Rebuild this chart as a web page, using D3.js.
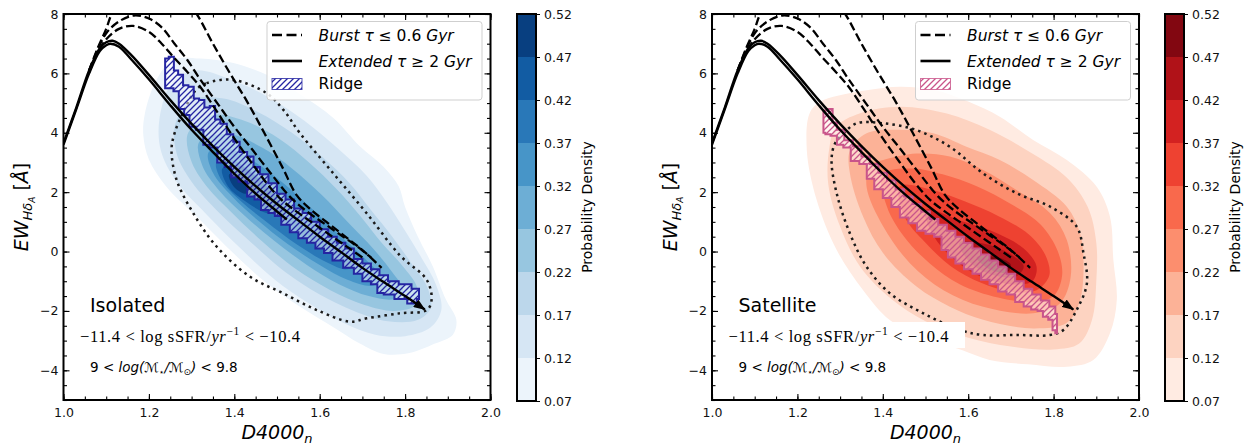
<!DOCTYPE html>
<html><head><meta charset="utf-8">
<script src="https://cdn.jsdelivr.net/npm/d3@7"></script>
<style>
body{margin:0;background:#fff}
svg{display:block;font-family:"DejaVu Sans",sans-serif}
text{white-space:pre}
</style>
</head><body>
<svg id="c" width="1249" height="445"></svg>
<script>
// ---------------- data ----------------
const levels = [0.07,0.12,0.17,0.22,0.27,0.32,0.37,0.42,0.47,0.52];
const xTickValues = [1.0,1.2,1.4,1.6,1.8,2.0];
const yTickValues = [-4,-2,0,2,4,6,8];

// model tracks (D4000n, EW)
const extendedLong = [[1.0,3.65],[1.03,4.85],[1.06,6.1],[1.085,6.85],[1.1,7.05],[1.115,7.1],[1.13,7.0],[1.16,6.6],[1.2,5.95],[1.25,5.1],[1.3,4.3],[1.35,3.55],[1.4,2.85],[1.45,2.2],[1.5,1.6],[1.55,1.05],[1.6,0.5],[1.65,-0.02],[1.7,-0.55],[1.75,-1.03],[1.8,-1.5],[1.846,-1.95]];
const extendedShort = [[1.0,3.6],[1.03,4.8],[1.06,6.0],[1.085,6.75],[1.1,6.95],[1.11,7.0],[1.13,6.9],[1.16,6.45],[1.2,5.8],[1.25,4.93],[1.3,4.1],[1.35,3.35],[1.4,2.62],[1.45,1.95],[1.5,1.35],[1.523,1.08]];
const burstA = [[1.06,6.1],[1.08,6.85],[1.1,7.5],[1.113,8.0],[1.14,8.6],[1.18,9.0],[1.22,9.1],[1.26,8.85],[1.29,8.4],[1.312,8.0],[1.35,7.0],[1.39,6.0],[1.43,5.05],[1.47,4.0],[1.514,2.8],[1.546,1.9],[1.58,1.4],[1.62,0.95],[1.66,0.5],[1.70,0.05],[1.745,-0.55]];
const burstB = [[1.06,6.1],[1.08,6.8],[1.1,7.35],[1.13,7.75],[1.165,7.95],[1.2,7.85],[1.23,7.55],[1.26,7.0],[1.29,6.45],[1.32,5.8],[1.36,5.0],[1.4,4.2],[1.444,3.4],[1.49,2.55],[1.53,1.85],[1.57,1.35],[1.61,0.95],[1.65,0.55],[1.69,0.15],[1.72,-0.2]];
const burstC = [[1.06,6.05],[1.08,6.7],[1.1,7.15],[1.13,7.5],[1.163,7.6],[1.2,7.4],[1.23,7.0],[1.257,6.56],[1.29,6.05],[1.32,5.55],[1.36,4.7],[1.398,3.85],[1.44,3.0],[1.476,2.3],[1.51,1.75],[1.55,1.3],[1.59,0.9],[1.63,0.5],[1.67,0.1],[1.70,-0.2]];

// Isolated: filled density contours (level 0.07 ... 0.47)
const isoC1 = [[1.19,4.6],[1.187,3.9],[1.2,3.1],[1.24,2.2],[1.32,1.06],[1.398,-0.06],[1.476,-1.07],[1.554,-1.86],[1.632,-2.55],[1.694,-3.1],[1.75,-3.45],[1.81,-3.42],[1.87,-3.1],[1.912,-2.8],[1.92,-2.3],[1.895,-1.6],[1.865,-0.5],[1.83,0.5],[1.80,1.5],[1.785,2.2],[1.75,2.85],[1.694,3.55],[1.632,4.5],[1.554,5.3],[1.476,5.95],[1.398,6.35],[1.32,6.5],[1.255,6.45],[1.215,5.7]];
const isoC2 = [[1.225,4.5],[1.228,3.4],[1.265,2.35],[1.335,1.25],[1.415,0.1],[1.495,-0.95],[1.575,-1.75],[1.655,-2.4],[1.73,-2.8],[1.80,-2.85],[1.86,-2.55],[1.885,-1.95],[1.872,-1.1],[1.84,-0.25],[1.8,0.7],[1.755,1.7],[1.71,2.55],[1.64,3.5],[1.565,4.4],[1.48,5.2],[1.39,5.8],[1.31,6.1],[1.255,5.7]];
const isoC3 = [[1.262,4.3],[1.265,3.3],[1.3,2.35],[1.365,1.3],[1.44,0.3],[1.52,-0.7],[1.6,-1.45],[1.68,-2.0],[1.76,-2.35],[1.83,-2.3],[1.86,-1.9],[1.852,-1.2],[1.815,-0.4],[1.77,0.5],[1.72,1.4],[1.67,2.3],[1.605,3.2],[1.535,4.0],[1.455,4.7],[1.375,5.15],[1.3,5.1]];
const isoC4 = [[1.292,4.0],[1.298,3.1],[1.335,2.2],[1.395,1.3],[1.465,0.35],[1.545,-0.6],[1.625,-1.3],[1.705,-1.8],[1.775,-2.0],[1.825,-1.8],[1.828,-1.2],[1.795,-0.5],[1.745,0.3],[1.695,1.2],[1.64,2.1],[1.575,3.0],[1.505,3.8],[1.425,4.4],[1.35,4.6]];
const isoC5 = [[1.318,3.7],[1.325,2.9],[1.365,2.05],[1.425,1.2],[1.495,0.35],[1.57,-0.45],[1.645,-1.1],[1.715,-1.5],[1.775,-1.6],[1.795,-1.3],[1.77,-0.7],[1.725,0.1],[1.665,1.0],[1.605,1.9],[1.535,2.8],[1.465,3.5],[1.39,3.95]];
const isoC6 = [[1.34,3.35],[1.35,2.65],[1.395,1.85],[1.455,1.05],[1.525,0.25],[1.6,-0.45],[1.665,-0.95],[1.725,-1.15],[1.745,-0.9],[1.71,-0.3],[1.65,0.5],[1.585,1.4],[1.515,2.3],[1.45,3.0],[1.39,3.45]];
const isoC7 = [[1.358,3.0],[1.37,2.4],[1.415,1.7],[1.475,1.0],[1.545,0.25],[1.615,-0.35],[1.665,-0.6],[1.685,-0.35],[1.64,0.3],[1.57,1.1],[1.50,1.95],[1.44,2.7],[1.39,3.1]];
const isoC8 = [[1.372,2.8],[1.385,2.2],[1.425,1.7],[1.475,1.3],[1.515,1.3],[1.50,1.8],[1.46,2.4],[1.41,2.9]];
const isoC9 = [[1.388,2.6],[1.398,2.2],[1.425,1.95],[1.448,2.1],[1.43,2.5]];

// Satellite: filled density contours
const satC1 = [[1.261,5.1],[1.23,4.7],[1.222,3.42],[1.245,1.74],[1.292,0.05],[1.354,-1.3],[1.417,-2.31],[1.5,-2.9],[1.585,-3.32],[1.65,-3.65],[1.74,-3.8],[1.831,-3.88],[1.893,-3.65],[1.932,-2.75],[1.948,-1.63],[1.94,-0.29],[1.932,1.17],[1.901,2.18],[1.831,3.08],[1.752,3.76],[1.674,4.54],[1.6,5.05],[1.52,5.45],[1.44,5.55],[1.37,5.45],[1.31,5.3]];
const satC2 = [[1.29,4.2],[1.275,3.5],[1.272,2.3],[1.3,0.84],[1.347,-0.51],[1.42,-1.6],[1.5,-2.35],[1.6,-2.9],[1.7,-3.2],[1.8,-3.3],[1.86,-3.1],[1.89,-2.3],[1.9,-1.0],[1.9,0.3],[1.88,1.5],[1.83,2.5],[1.75,3.3],[1.65,4.1],[1.55,4.65],[1.44,4.88],[1.347,4.66]];
const satC3 = [[1.323,3.4],[1.323,2.63],[1.354,1.17],[1.401,-0.06],[1.479,-1.18],[1.557,-1.86],[1.635,-2.3],[1.752,-2.59],[1.831,-2.4],[1.862,-1.63],[1.87,-0.3],[1.862,0.61],[1.831,1.51],[1.752,2.41],[1.674,3.08],[1.596,3.53],[1.518,3.98],[1.44,4.1],[1.362,3.98]];
const satC4 = [[1.37,2.9],[1.362,2.18],[1.401,0.84],[1.464,-0.4],[1.542,-1.3],[1.635,-1.86],[1.752,-2.08],[1.815,-1.74],[1.84,-0.85],[1.831,0.39],[1.792,1.29],[1.713,2.07],[1.635,2.75],[1.557,3.2],[1.479,3.3],[1.401,3.08]];
const satC5 = [[1.4,2.6],[1.41,1.5],[1.45,0.5],[1.51,-0.4],[1.58,-1.1],[1.67,-1.55],[1.75,-1.7],[1.8,-1.5],[1.82,-0.8],[1.81,0.0],[1.77,0.9],[1.7,1.6],[1.62,2.2],[1.54,2.6],[1.47,2.8]];
const satC6 = [[1.44,2.2],[1.45,1.2],[1.5,0.3],[1.56,-0.5],[1.63,-1.05],[1.7,-1.35],[1.76,-1.3],[1.79,-0.8],[1.78,-0.1],[1.74,0.6],[1.67,1.2],[1.59,1.7],[1.51,2.1]];
const satC7 = [[1.5,1.4],[1.52,0.5],[1.57,-0.3],[1.63,-0.85],[1.7,-1.1],[1.75,-1.0],[1.76,-0.5],[1.73,0.1],[1.67,0.6],[1.59,1.0]];
const satC8 = [[1.58,0.3],[1.6,-0.3],[1.65,-0.75],[1.71,-0.85],[1.73,-0.5],[1.7,-0.1],[1.64,0.25]];
const satC9 = [[1.62,-0.2],[1.65,-0.6],[1.69,-0.7],[1.7,-0.45],[1.67,-0.2]];

// ridges
const isoRidge = [[1.238,6.5],[1.255,6.56],[1.262,6.1],[1.275,5.95],[1.285,5.6],[1.30,5.55],[1.31,5.15],[1.325,5.1],[1.335,4.85],[1.35,4.9],[1.36,4.45],[1.375,4.3],[1.39,3.95],[1.405,3.7],[1.42,3.35],[1.44,3.2],[1.45,2.85],[1.47,2.6],[1.49,2.3],[1.51,1.95],[1.53,1.75],[1.55,1.45],[1.57,1.3],[1.59,1.0],[1.61,0.75],[1.63,0.5],[1.65,0.3],[1.67,0.1],[1.69,-0.25],[1.71,-0.4],[1.73,-0.6],[1.75,-0.8],[1.77,-1.0],[1.80,-1.1],[1.83,-1.25],[1.835,-1.6],[1.82,-1.75],[1.79,-1.6],[1.76,-1.45],[1.74,-1.4],[1.73,-1.1],[1.71,-1.0],[1.69,-0.75],[1.67,-0.55],[1.64,-0.3],[1.62,-0.05],[1.60,0.1],[1.58,0.3],[1.56,0.45],[1.54,0.65],[1.52,0.9],[1.50,1.2],[1.49,1.3],[1.47,1.4],[1.455,1.75],[1.44,1.85],[1.42,2.35],[1.40,2.5],[1.385,2.85],[1.37,3.0],[1.35,3.5],[1.335,3.6],[1.32,4.1],[1.30,4.2],[1.29,4.6],[1.275,4.8],[1.265,5.4],[1.25,5.5],[1.238,5.5]];
const satRidge = [[1.261,4.75],[1.28,4.8],[1.285,4.35],[1.30,4.1],[1.32,3.75],[1.34,3.55],[1.36,3.2],[1.38,2.95],[1.40,2.65],[1.42,2.4],[1.44,2.1],[1.46,1.85],[1.48,1.6],[1.50,1.35],[1.52,1.1],[1.54,0.9],[1.56,0.7],[1.58,0.5],[1.60,0.3],[1.62,0.1],[1.64,-0.1],[1.66,-0.3],[1.68,-0.5],[1.70,-0.75],[1.72,-1.0],[1.74,-1.25],[1.76,-1.45],[1.78,-1.65],[1.80,-1.85],[1.808,-2.1],[1.808,-2.75],[1.80,-2.65],[1.795,-2.3],[1.78,-2.2],[1.77,-2.0],[1.755,-1.95],[1.74,-1.85],[1.72,-1.7],[1.70,-1.45],[1.68,-1.35],[1.66,-1.1],[1.64,-0.95],[1.62,-0.75],[1.60,-0.6],[1.58,-0.4],[1.56,-0.2],[1.545,0.05],[1.53,0.5],[1.51,0.6],[1.49,0.7],[1.47,0.95],[1.45,1.15],[1.43,1.5],[1.41,1.8],[1.39,2.1],[1.37,2.45],[1.355,2.95],[1.335,3.05],[1.315,3.5],[1.30,3.6],[1.285,3.9],[1.27,3.95],[1.261,4.0]];

// dotted enclosing contours
const isoDotted = [[1.31,5.44],[1.335,5.67],[1.397,5.78],[1.476,5.33],[1.515,4.77],[1.554,3.98],[1.632,2.63],[1.71,1.29],[1.788,-0.13],[1.851,-0.96],[1.862,-1.63],[1.851,-1.97],[1.788,-2.08],[1.71,-2.25],[1.671,-2.36],[1.593,-1.97],[1.515,-1.41],[1.437,-0.85],[1.359,0.16],[1.304,1.29],[1.265,2.41],[1.253,3.42],[1.26,3.98],[1.283,4.77]];
const satDotted = [[1.288,3.64],[1.308,3.98],[1.339,4.32],[1.401,4.32],[1.479,4.09],[1.557,3.53],[1.635,2.63],[1.714,1.96],[1.792,1.51],[1.854,0.84],[1.87,-0.06],[1.878,-1.07],[1.854,-1.97],[1.823,-2.64],[1.792,-2.81],[1.714,-2.81],[1.635,-2.81],[1.58,-2.64],[1.495,-2.08],[1.417,-1.41],[1.362,-0.51],[1.323,0.61],[1.292,1.96],[1.28,3.08]];

const panelNames = ["Isolated","Satellite"];

// ---------------- drawing ----------------
const svg = d3.select("#c");
const defs = svg.append("defs");
defs.append("marker").attr("id","arrow").attr("viewBox","0 0 12 9").attr("refX",11).attr("refY",4.5)
  .attr("markerWidth",12).attr("markerHeight",9).attr("markerUnits","userSpaceOnUse").attr("orient","auto")
  .append("path").attr("d","M0,0L12,4.5L0,9z").attr("fill","#000");

function hatch(id, color){
  const p = defs.append("pattern").attr("id",id).attr("patternUnits","userSpaceOnUse").attr("width",6).attr("height",6);
  p.append("path").attr("d","M-1,1L1,-1M0,6L6,0M5,7L7,5").attr("stroke",color).attr("stroke-width",1.3);
}

const panels = [
  {x0:63.5, contours:[isoC1,isoC2,isoC3,isoC4,isoC5,isoC6,isoC7,isoC8,isoC9], interp:d3.interpolateBlues,
   ridge:isoRidge, ridgeColor:"#2525a2", dotted:isoDotted, cbX:517},
  {x0:712, contours:[satC1,satC2,satC3,satC4,satC5,satC6,satC7,satC8,satC9], interp:d3.interpolateReds,
   ridge:satRidge, ridgeColor:"#c9548a", dotted:satDotted, cbX:1165}
];

function rich(sel, parts){
  parts.forEach(pt=>{
    const t = sel.append("tspan").text(pt.t);
    if(pt.i) t.attr("font-style","italic");
    if(pt.s) t.attr("font-size",pt.s);
    if(pt.dy) t.attr("dy",pt.dy);
    if(pt.f) t.attr("font-family",pt.f);
  });
}

const W = 427, TOP = 14, BOT = 400;
panels.forEach((p,pi)=>{
  const x = d3.scaleLinear().domain([1,2]).range([p.x0, p.x0+W]);
  const y = d3.scaleLinear().domain([-5,8]).range([BOT, TOP]);
  const g = svg.append("g");
  const clipId = "clip"+pi;
  defs.append("clipPath").attr("id",clipId).append("rect").attr("x",p.x0).attr("y",TOP).attr("width",W).attr("height",BOT-TOP);
  const hid = "hatch"+pi;
  hatch(hid, p.ridgeColor);

  const plot = g.append("g").attr("clip-path",`url(#${clipId})`);
  const closed = d3.line().x(d=>x(d[0])).y(d=>y(d[1])).curve(d3.curveCatmullRomClosed.alpha(0.5));
  const open = d3.line().x(d=>x(d[0])).y(d=>y(d[1])).curve(d3.curveCatmullRom.alpha(0.5));
  const step = d3.line().x(d=>x(d[0])).y(d=>y(d[1])).curve(d3.curveStep);

  p.contours.forEach((c,i)=>{
    plot.append("path").attr("d",closed(c)).attr("fill",p.interp((i+0.5)/9));
  });
  plot.append("path").attr("d",closed(p.dotted)).attr("fill","none").attr("stroke","#1a1a1a")
    .attr("stroke-width",2.5).attr("stroke-dasharray","2.5 4.1");

  // white box behind sSFR annotation
  plot.append("rect").attr("x",p.x0+10).attr("y",322).attr("width",243).attr("height",26).attr("fill","#fff");

  // ridge
  const rd = step(p.ridge)+"Z";
  plot.append("path").attr("d",rd).attr("fill","#fff").attr("fill-opacity",0.5);
  plot.append("path").attr("d",rd).attr("fill",`url(#${hid})`).attr("stroke",p.ridgeColor)
    .attr("stroke-width",2).attr("stroke-linejoin","miter");

  // model tracks
  [burstA,burstB,burstC].forEach(t=>{
    plot.append("path").attr("d",open(t)).attr("fill","none").attr("stroke","#000").attr("stroke-width",2.3)
      .attr("stroke-dasharray","8.5 3.7");
  });
  plot.append("path").attr("d",open(extendedShort)).attr("fill","none").attr("stroke","#000").attr("stroke-width",2.4);
  plot.append("path").attr("d",open(extendedLong)).attr("fill","none").attr("stroke","#000").attr("stroke-width",2.4)
    .attr("marker-end","url(#arrow)");

  // axes ticks
  const fmtY = d => d<0 ? "\u2212"+Math.abs(d) : String(d);
  const minorX = d3.range(1,2.0001,0.05), minorY = d3.range(-5,8.0001,0.5);
  const ax = (gen, tr)=> g.append("g").attr("transform",tr).call(gen).call(s=>s.select(".domain").remove());
  ax(d3.axisBottom(x).tickValues(xTickValues).tickSizeInner(-6).tickSizeOuter(0).tickPadding(8).tickFormat(d3.format(".1f")), `translate(0,${BOT})`);
  ax(d3.axisBottom(x).tickValues(minorX).tickSizeInner(-3.5).tickSizeOuter(0).tickFormat(""), `translate(0,${BOT})`);
  ax(d3.axisTop(x).tickValues(xTickValues).tickSizeInner(-6).tickSizeOuter(0).tickFormat(""), `translate(0,${TOP})`);
  ax(d3.axisTop(x).tickValues(minorX).tickSizeInner(-3.5).tickSizeOuter(0).tickFormat(""), `translate(0,${TOP})`);
  ax(d3.axisLeft(y).tickValues(yTickValues).tickSizeInner(-6).tickSizeOuter(0).tickPadding(5).tickFormat(fmtY), `translate(${p.x0},0)`);
  ax(d3.axisLeft(y).tickValues(minorY).tickSizeInner(-3.5).tickSizeOuter(0).tickFormat(""), `translate(${p.x0},0)`);
  ax(d3.axisRight(y).tickValues(yTickValues).tickSizeInner(-6).tickSizeOuter(0).tickFormat(""), `translate(${p.x0+W},0)`);
  ax(d3.axisRight(y).tickValues(minorY).tickSizeInner(-3.5).tickSizeOuter(0).tickFormat(""), `translate(${p.x0+W},0)`);
  g.selectAll(".tick line").attr("stroke","#000").attr("stroke-width",1.1);
  g.selectAll(".tick text").attr("font-size",12.5).attr("fill","#111").attr("font-family","DejaVu Sans");

  g.append("rect").attr("x",p.x0).attr("y",TOP).attr("width",W).attr("height",BOT-TOP)
    .attr("fill","none").attr("stroke","#000").attr("stroke-width",2);

  // axis labels
  const xl = g.append("text").attr("x",p.x0+213.5).attr("y",439).attr("text-anchor","middle").attr("font-size",19);
  rich(xl,[{t:"D4000",i:1},{t:"n",i:1,s:13,dy:4}]);
  const yl = g.append("text").attr("transform","rotate(-90)").attr("x",-207).attr("y",p.x0-35.5).attr("text-anchor","middle").attr("font-size",19);
  rich(yl,[{t:"EW",i:1},{t:"H\u03b4",i:1,s:13,dy:4},{t:"A",i:1,s:9,dy:2.5},{t:" [",s:19,dy:-6.5},{t:"\u00c5",i:1},{t:"]"}]);

  // legend
  const lx = p.x0+203.5, ly = 21.5;
  const lg = g.append("g");
  lg.append("rect").attr("x",lx).attr("y",ly).attr("width",215).attr("height",78.5).attr("rx",3)
    .attr("fill","#fff").attr("fill-opacity",0.85).attr("stroke","#cfcfcf").attr("stroke-width",1);
  lg.append("line").attr("x1",lx+5).attr("x2",lx+35).attr("y1",35).attr("y2",35).attr("stroke","#000").attr("stroke-width",2.6).attr("stroke-dasharray","10 4.5");
  lg.append("line").attr("x1",lx+5).attr("x2",lx+35).attr("y1",61).attr("y2",61).attr("stroke","#000").attr("stroke-width",2.6);
  lg.append("rect").attr("x",lx+5).attr("y",78.5).attr("width",30).attr("height",11).attr("fill","#fff");
  lg.append("rect").attr("x",lx+5).attr("y",78.5).attr("width",30).attr("height",11).attr("fill",`url(#${hid})`).attr("stroke",p.ridgeColor).attr("stroke-width",1).attr("stroke-opacity",0.8);
  const t1 = lg.append("text").attr("x",lx+51.5).attr("y",40.5).attr("font-size",15.5);
  rich(t1,[{t:"Burst",i:1},{t:" \u03c4",i:1},{t:" \u2264 0.6"},{t:" Gyr",i:1}]);
  const t2 = lg.append("text").attr("x",lx+51.5).attr("y",66.5).attr("font-size",15.5);
  rich(t2,[{t:"Extended",i:1},{t:" \u03c4",i:1},{t:" \u2265 2"},{t:" Gyr",i:1}]);
  lg.append("text").attr("x",lx+51.5).attr("y",89).attr("font-size",15.5).text("Ridge");

  // annotations
  g.append("text").attr("x",p.x0+26.5).attr("y",312).attr("font-size",19).text(panelNames[pi]);
  const s1 = g.append("text").attr("x",p.x0+16.5).attr("y",341.7).attr("font-size",16.5).attr("font-family","Liberation Serif")
    .attr("textLength",220).attr("lengthAdjust","spacing");
  rich(s1,[{t:"\u221211.4 < log sSFR/"},{t:"yr",i:1},{t:"\u22121",s:11.5,dy:-6.5},{t:" < \u221210.4",dy:6.5}]);
  const s2 = g.append("text").attr("x",p.x0+26.5).attr("y",371.7).attr("font-size",13.5);
  rich(s2,[{t:"9 < "},{t:"log(\u2133",i:1},{t:"\u22c6",s:9,dy:3},{t:"/\u2133",i:1,dy:-3},{t:"\u2299",s:9,dy:3},{t:")",i:1,dy:-3},{t:" < 9.8"}]);

  // colorbar
  const cy = d3.scaleLinear().domain([levels[0], levels[levels.length-1]]).range([401, 14]);
  const cb = svg.append("g");
  levels.slice(0,-1).forEach((l,i)=>{
    cb.append("rect").attr("x",p.cbX).attr("width",19).attr("y",cy(levels[i+1])).attr("height",cy(l)-cy(levels[i+1]))
      .attr("fill",p.interp((i+0.5)/9));
  });
  cb.append("rect").attr("x",p.cbX).attr("y",14).attr("width",19).attr("height",387).attr("fill","none").attr("stroke","#000").attr("stroke-width",2);
  const cax = cb.append("g").attr("transform",`translate(${p.cbX+19},0)`)
    .call(d3.axisRight(cy).tickValues(levels).tickSizeInner(4).tickSizeOuter(0).tickPadding(4).tickFormat(d3.format(".2f")));
  cax.select(".domain").remove();
  cax.selectAll(".tick line").attr("stroke","#000");
  cax.selectAll(".tick text").attr("font-size",12.5).attr("fill","#111").attr("font-family","DejaVu Sans");
  cb.append("text").attr("transform","rotate(-90)").attr("x",-207).attr("y",p.cbX+75).attr("text-anchor","middle")
    .attr("font-size",14).text("Probability Density");
});
</script>
</body></html>
